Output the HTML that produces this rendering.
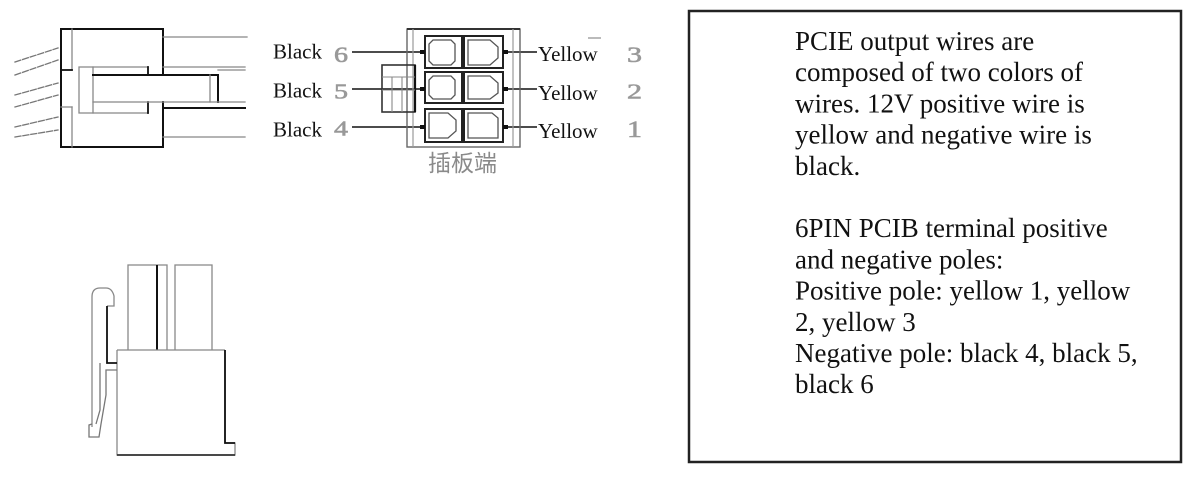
<!DOCTYPE html>
<html>
<head>
<meta charset="utf-8">
<style>
html,body{margin:0;padding:0;background:#fff;}
svg{display:block;}
.t{font-family:"Liberation Serif",serif;fill:#111;}
.g{font-family:"Liberation Serif",serif;fill:#999;stroke:#999;stroke-width:0.6;}
</style>
</head>
<body>
<svg width="1192" height="480" viewBox="0 0 1192 480" xmlns="http://www.w3.org/2000/svg">
<rect x="0" y="0" width="1192" height="480" fill="#fff"/>

<!-- ===== Top-left side connector ===== -->
<g fill="none" stroke-linecap="square">
  <g stroke="#777" stroke-width="1.3" stroke-dasharray="6,2">
    <line x1="15" y1="62" x2="58" y2="48"/>
    <line x1="15" y1="75" x2="58" y2="60"/>
    <line x1="15" y1="95" x2="58" y2="83"/>
    <line x1="15" y1="107" x2="58" y2="95"/>
    <line x1="15" y1="127" x2="58" y2="117"/>
    <line x1="15" y1="137" x2="58" y2="130"/>
  </g>
  <path d="M163,75 V29 H61 V147 H163 V102" stroke="#111" stroke-width="2"/>
  <path d="M72,29 V70" stroke="#888" stroke-width="1.3"/>
  <path d="M61,70 H72" stroke="#111" stroke-width="1.8"/>
  <path d="M61,107 H72" stroke="#888" stroke-width="1.3"/>
  <path d="M72,107 V147" stroke="#888" stroke-width="1.3"/>
  <path d="M148,67 H79 V113 H148" stroke="#888" stroke-width="1.3"/>
  <path d="M93,67 V113" stroke="#888" stroke-width="1.3"/>
  <path d="M148,67 V75 M148,102 V113" stroke="#111" stroke-width="1.8"/>
  <path d="M93,75 H218 V102" stroke="#111" stroke-width="2"/>
  <path d="M93,102 H218" stroke="#888" stroke-width="1.3"/>
  <path d="M210,75 V102" stroke="#888" stroke-width="1.3"/>
  <g stroke="#888" stroke-width="1.3">
    <line x1="163" y1="37" x2="247" y2="37"/>
    <line x1="163" y1="67" x2="245" y2="67"/>
    <line x1="218" y1="70" x2="245" y2="70"/>
    <line x1="218" y1="102" x2="245" y2="102"/>
    <line x1="163" y1="137" x2="245" y2="137"/>
  </g>
  <line x1="163" y1="108" x2="245" y2="108" stroke="#111" stroke-width="2"/>
</g>

<!-- ===== Pin-out connector ===== -->
<g fill="none">
  <g stroke="#111" stroke-width="1.5">
    <line x1="352" y1="52" x2="425" y2="52"/>
    <line x1="352" y1="89" x2="425" y2="89"/>
    <line x1="352" y1="127" x2="425" y2="127"/>
    <line x1="503" y1="52" x2="537" y2="52"/>
    <line x1="503" y1="89" x2="537" y2="89"/>
    <line x1="503" y1="127" x2="537" y2="127"/>
  </g>
  <rect x="407" y="29" width="113" height="118" stroke="#666" stroke-width="1.4"/>
  <line x1="407" y1="29" x2="520" y2="29" stroke="#333" stroke-width="2"/>
  <line x1="413" y1="29" x2="413" y2="147" stroke="#999" stroke-width="1.2"/>
  <line x1="513" y1="29" x2="513" y2="147" stroke="#999" stroke-width="1.2"/>
  <rect x="382" y="65" width="33" height="47" stroke="#333" stroke-width="1.6"/>
  <line x1="415" y1="65" x2="415" y2="112" stroke="#111" stroke-width="2.2"/>
  <line x1="392" y1="77" x2="392" y2="112" stroke="#888" stroke-width="1.1"/>
  <line x1="402" y1="77" x2="402" y2="112" stroke="#888" stroke-width="1.1"/>
  <line x1="382" y1="77" x2="415" y2="77" stroke="#888" stroke-width="1.1"/>
  <line x1="382" y1="90" x2="415" y2="90" stroke="#888" stroke-width="1.1"/>
  <g stroke="#222" stroke-width="2">
    <rect x="425" y="36" width="37" height="32"/>
    <rect x="464" y="36" width="39" height="32"/>
    <rect x="425" y="72" width="37" height="31"/>
    <rect x="464" y="72" width="39" height="31"/>
    <rect x="425" y="109" width="37" height="33"/>
    <rect x="464" y="109" width="39" height="33"/>
  </g>
  <g stroke="#555" stroke-width="1.3">
    <path d="M433,40 H451 L455,44 V61 L451,65 H433 L429,61 V44 Z"/>
    <path d="M433,76 H451 L455,80 V95 L451,99 H433 L429,95 V80 Z"/>
    <path d="M429,113 H448 L456,120 V131 L448,138 H429 Z"/>
    <path d="M468,40 H490 L498,47 V58 L490,65 H468 Z"/>
    <path d="M468,76 H490 L498,83 V93 L490,99 H468 Z"/>
    <path d="M468,113 H492 L498,118 V138 H468 Z"/>
  </g>
  <g fill="#111" stroke="none">
    <rect x="420" y="50" width="5" height="4"/>
    <rect x="420" y="87" width="5" height="4"/>
    <rect x="420" y="125" width="5" height="4"/>
    <rect x="503" y="50" width="5" height="4"/>
    <rect x="503" y="87" width="5" height="4"/>
    <rect x="503" y="125" width="5" height="4"/>
  </g>
</g>
<line x1="588" y1="38" x2="601" y2="38" stroke="#bbb" stroke-width="2"/>

<!-- labels -->
<text class="t" x="273" y="58.5" font-size="21">Black</text>
<text class="t" x="273" y="97.5" font-size="21">Black</text>
<text class="t" x="273" y="136.5" font-size="21">Black</text>
<text class="g" x="334" y="62" font-size="22" textLength="14" lengthAdjust="spacingAndGlyphs">6</text>
<text class="g" x="334" y="98.5" font-size="21" textLength="14" lengthAdjust="spacingAndGlyphs">5</text>
<text class="g" x="334" y="135.5" font-size="21" textLength="14" lengthAdjust="spacingAndGlyphs">4</text>
<text class="t" x="538" y="61" font-size="21">Yellow</text>
<text class="t" x="538" y="100" font-size="21">Yellow</text>
<text class="t" x="538" y="138" font-size="21">Yellow</text>
<text class="g" x="627" y="62" font-size="22" textLength="15" lengthAdjust="spacingAndGlyphs">3</text>
<text class="g" x="627" y="98.5" font-size="21" textLength="15" lengthAdjust="spacingAndGlyphs">2</text>
<text class="g" x="627" y="137" font-size="23" textLength="15" lengthAdjust="spacingAndGlyphs">1</text>
<text x="428" y="171" font-size="23" fill="#8a8a8a" style="font-family:'Liberation Sans','Noto Sans CJK SC',sans-serif;">插板端</text>

<!-- ===== Bottom side view ===== -->
<g fill="none" stroke-linejoin="miter">
  <path d="M128,350 V265 H167 V350" stroke="#888" stroke-width="1.3"/>
  <path d="M175,350 V265 H212 V350" stroke="#888" stroke-width="1.3"/>
  <line x1="157" y1="265" x2="157" y2="350" stroke="#111" stroke-width="2"/>
  <path d="M117,350 H225" stroke="#888" stroke-width="1.3"/>
  <path d="M117,350 V455 H235 V443 H225 V350" stroke="#888" stroke-width="1.3"/>
  <path d="M225,350 V443 H235" stroke="#111" stroke-width="1.8"/>
  <path d="M117,455 H235" stroke="#333" stroke-width="1.8"/>
  <path d="M92,427 V297 Q92,288 100,288 H106 Q112,288 114,296 V306 H107" stroke="#888" stroke-width="1.3"/>
  <path d="M107,306 V363 H117" stroke="#111" stroke-width="1.8"/>
  <path d="M100,363 V410 L96,424" stroke="#777" stroke-width="1.3"/>
  <path d="M117,370 H106 V395 L101,424 L99,437 H89 V425 L92,424" stroke="#777" stroke-width="1.3"/>
</g>

<!-- ===== Text box ===== -->
<rect x="689" y="11" width="492" height="451" fill="none" stroke="#222" stroke-width="2.5"/>
<g class="t" font-size="27">
  <text x="795" y="50">PCIE output wires are</text>
  <text x="795" y="81.2">composed of two colors of</text>
  <text x="795" y="112.4">wires. 12V positive wire is</text>
  <text x="795" y="143.6">yellow and negative wire is</text>
  <text x="795" y="174.8">black.</text>
  <text x="795" y="237.2">6PIN PCIB terminal positive</text>
  <text x="795" y="268.4">and negative poles:</text>
  <text x="795" y="299.6">Positive pole: yellow 1, yellow</text>
  <text x="795" y="330.8">2, yellow 3</text>
  <text x="795" y="362">Negative pole: black 4, black 5,</text>
  <text x="795" y="393.2">black 6</text>
</g>
</svg>
</body>
</html>
